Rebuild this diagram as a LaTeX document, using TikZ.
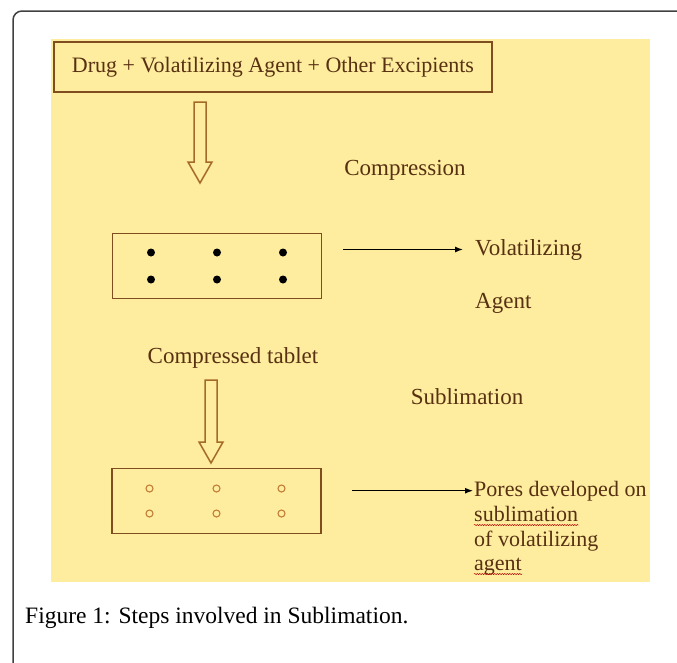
\documentclass[tikz,border=0pt]{standalone}
\usepackage{fontspec}
\setmainfont{Liberation Serif}
\usetikzlibrary{
	positioning,
	arrows.meta,
	decorations.pathmorphing
}

\definecolor{panel}{RGB}{254,237,158}
\definecolor{inkbrown}{RGB}{88,48,18}
\definecolor{boxbrown}{RGB}{128,78,30}
\definecolor{arrowbrown}{RGB}{165,105,40}
\definecolor{poreorange}{RGB}{195,125,55}

\begin{document}
\begin{tikzpicture}[
			x=1pt, y=-1pt,
			brownlabel/.style={
				text=inkbrown,
				font=\fontsize{23}{25}\selectfont,
				inner sep=0pt
			},
			tablet/.style={
				draw=boxbrown,
				line width=1.6pt,
				minimum width=209pt,
				minimum height=65pt,
				inner sep=0pt
			},
			hollow/.style={draw=arrowbrown,line width=1.5pt,fill=panel},
			arrow/.style={-{Latex[length=8pt,width=6pt]},line width=1.2pt},
			pore/.style={draw=poreorange,line width=1.1pt},
			squiggle/.style={
				draw=red!70!black,
				line width=0.5pt,
				decorate,
				decoration={snake,amplitude=0.6pt,segment length=2.5pt}
			},
			pics/hollowdown/.style={code={
				\draw[hollow] (-6,0) -- (-6,#1-21) -- (-12,#1-21) -- (0,#1)
					-- (12,#1-21) -- (6,#1-21) -- (6,0) -- cycle;
			}}
			]
			
			\useasboundingbox (0,0) rectangle (677,662);
			\clip (0,0) rectangle (677,662);
			
			% frame and yellow panel
			\draw[black!75,line width=1.5pt,rounded corners=9pt] (13,700) |- (700,11);
			\fill[panel] (51,39) rectangle (650,582);
			
			\node[brownlabel,draw=boxbrown,line width=1.6pt,minimum width=438pt,
				minimum height=50pt,font=\fontsize{22}{25}\selectfont]
				(mix) at (273,67) {Drug + Volatilizing Agent + Other Excipients};
			
			\pic at (200,102) {hollowdown=81};
			
			\node[brownlabel,anchor=base] (compress) at (405,175) {Compression};
			
			% tablet with volatilizing agent
			\node[tablet] (tab1) at (217,266) {};
			\foreach \dx in {-66,0,66}
				\foreach \dy in {-13.5,13.5}
					\fill ([shift={(\dx,\dy)}]tab1.center) circle (4pt);
			
			\node[brownlabel,anchor=base west] (vol) at (475,255) {Volatilizing};
			\node[brownlabel,anchor=base west] (agent) at (475,308) {Agent};
			
			\draw[arrow] ([xshift=21pt]tab1.east |- vol.west) -- ([xshift=-12pt]vol.west);
			
			\node[brownlabel,anchor=base] (comptab) at (233,363) {Compressed tablet};
			
			\pic at (211,380) {hollowdown=83};
			
			\node[brownlabel,anchor=base] (sublim) at (467,404) {Sublimation};
			
			% tablet after sublimation
			\node[tablet] (tab2) at (216.5,501) {};
			\foreach \dx in {-67,0,65}
				\foreach \dy in {-12.5,12.5}
					\draw[pore] ([shift={(\dx,\dy)}]tab2.center) circle (3.5pt);
			
			\begin{scope}[brownlabel/.append style={font=\fontsize{22}{25}\selectfont}]
				\node[brownlabel,anchor=base west] (pore1) at (474,496) {Pores developed on};
				\node[brownlabel,anchor=base west] (pore2) at (474,521) {sublimation};
				\node[brownlabel,anchor=base west] (pore3) at (474,546) {of volatilizing};
				\node[brownlabel,anchor=base west] (pore4) at (474,570) {agent};
			\end{scope}
			
			\draw[squiggle] ([yshift=-4pt]pore2.base west) -- ([yshift=-4pt]pore2.base east);
			\draw[squiggle] ([yshift=-4pt]pore4.base west) -- ([yshift=-4pt]pore4.base east);
			
			\draw[arrow] ([xshift=30pt]tab2.east |- pore1.west) -- ([xshift=-1pt]pore1.west);
			
			\node[anchor=base west,inner sep=0pt,font=\fontsize{23.5}{27}\selectfont]
				(caption) at (25,623) {Figure 1: Steps involved in Sublimation.};
			
		\end{tikzpicture}
\end{document}
